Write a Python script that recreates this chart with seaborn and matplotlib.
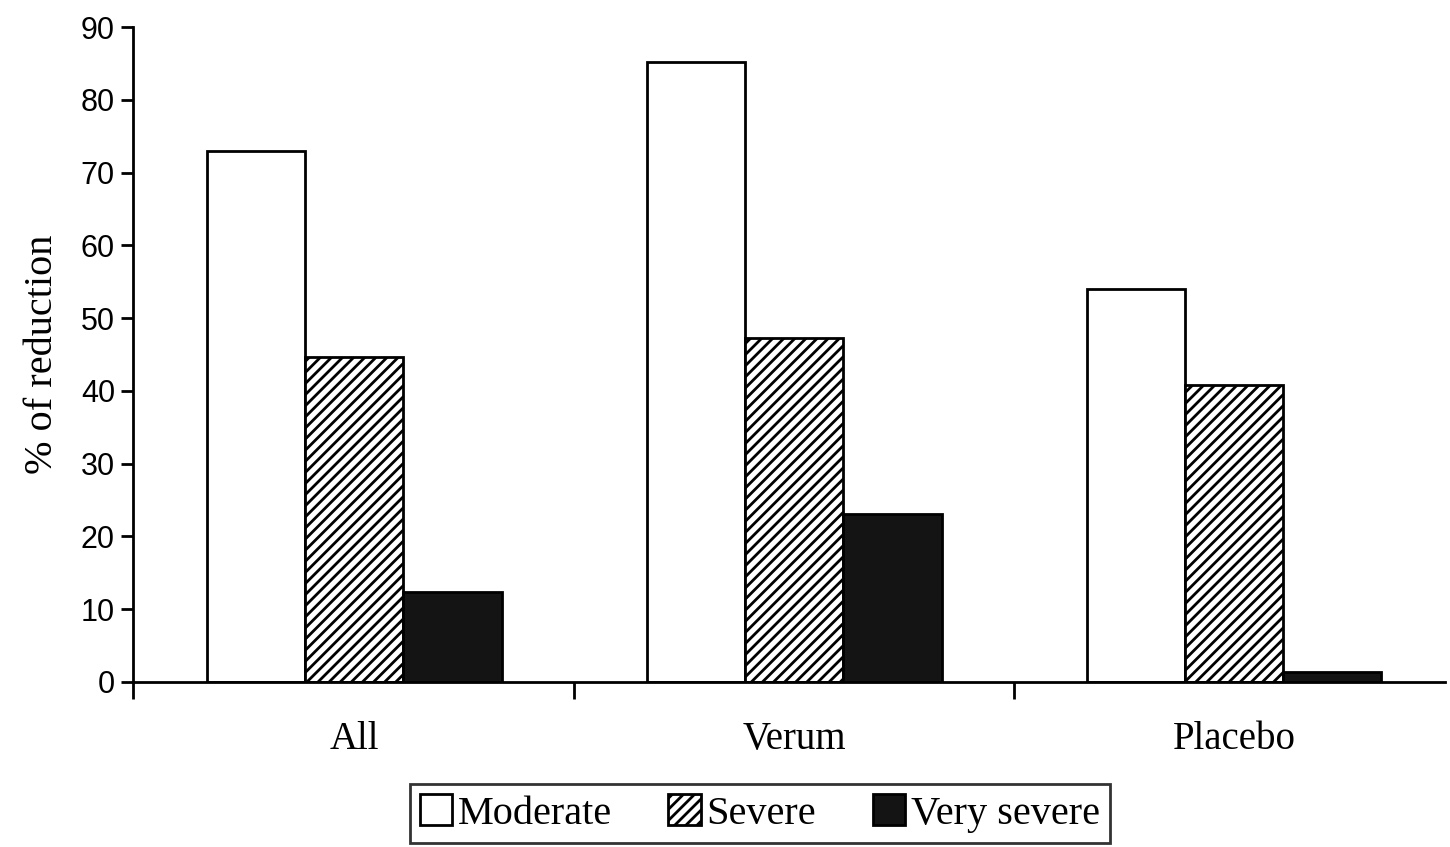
import pandas as pd
import matplotlib
matplotlib.use('Agg')
import matplotlib.pyplot as plt
import seaborn as sns

# data
groups = ['All', 'Verum', 'Placebo']
severity = ['Moderate', 'Severe', 'Very severe']
moderate = [73, 85.2, 54]
severe = [44.6, 47.2, 40.8]
very_severe = [12.4, 23.1, 1.4]

df = pd.DataFrame({
    'group': groups * 3,
    'severity': [severity[0]] * 3 + [severity[1]] * 3 + [severity[2]] * 3,
    'value': moderate + severe + very_severe,
})

sns.set_style('ticks')
plt.rcParams['hatch.linewidth'] = 2.0
plt.rcParams['hatch.color'] = 'black'
plt.rcParams['text.color'] = 'black'
plt.rcParams['axes.labelcolor'] = 'black'
plt.rcParams['xtick.color'] = 'black'
plt.rcParams['ytick.color'] = 'black'

fig = plt.figure(figsize=(14.5, 8.47), dpi=100)
ax = fig.add_axes([0.0917, 0.195, 0.905, 0.773])

palette = {'Moderate': 'white', 'Severe': 'white', 'Very severe': '#141414'}
sns.barplot(data=df, x='group', y='value', hue='severity', order=groups,
            hue_order=severity, palette=palette, width=0.67, gap=0,
            edgecolor='black', linewidth=2, saturation=1, legend=False, ax=ax)

for patch in ax.containers[1].patches:
    patch.set_hatch('///')

ax.set_ylim(0, 90)
ax.set_xlim(-0.503, 2.48)
ax.set_yticks(range(0, 91, 10))
ax.tick_params(axis='y', direction='out', length=9, width=2, labelsize=22, pad=4)
for lbl in ax.get_yticklabels():
    lbl.set_fontfamily('Liberation Sans')

ax.set_xticks([0, 1, 2])
ax.set_xticklabels(groups, family='Liberation Serif', fontsize=28)
ax.tick_params(axis='x', which='major', length=0, pad=28)
ax.set_xticks([-0.503, 0.5, 1.5], minor=True)
ax.tick_params(axis='x', which='minor', direction='out', length=12, width=2)

ax.set_xlabel('')
ax.set_ylabel('% of reduction', family='Liberation Serif', fontsize=29, labelpad=14)

sns.despine(ax=ax)
for side in ['left', 'bottom']:
    ax.spines[side].set_linewidth(2)
    ax.spines[side].set_color('black')

leg = fig.legend(ax.containers, severity, loc='center', bbox_to_anchor=(0.524, 0.0395),
                 ncol=3, frameon=True, fancybox=False, edgecolor='black',
                 prop={'family': 'Liberation Serif', 'size': 29},
                 handlelength=0.8, handleheight=0.8, handletextpad=0.15,
                 columnspacing=1.4, borderpad=0.25)
leg.get_frame().set_linewidth(2)

fig.savefig('out.png', dpi=100)
